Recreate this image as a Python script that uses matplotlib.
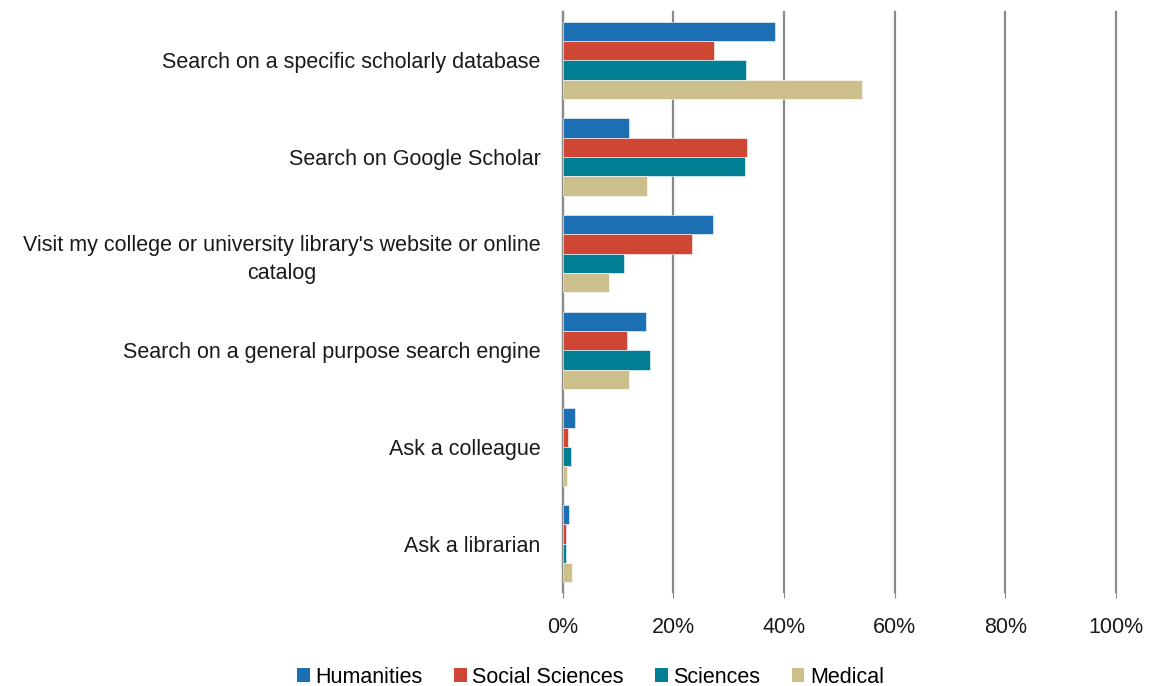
import matplotlib.pyplot as plt
import numpy as np
from matplotlib.patches import Patch
from matplotlib.ticker import PercentFormatter

plt.rcParams["font.family"] = ["Liberation Sans Narrow", "Liberation Sans", "DejaVu Sans"]

categories = [
    "Search on a specific scholarly database",
    "Search on Google Scholar",
    "Visit my college or university library's website or online\ncatalog",
    "Search on a general purpose search engine",
    "Ask a colleague",
    "Ask a librarian",
]
series_names = ["Humanities", "Social Sciences", "Sciences", "Medical"]
humanities = [38.4, 12.0, 27.2, 15.0, 2.3, 1.1]
social_sciences = [27.4, 33.4, 23.4, 11.7, 1.0, 0.6]
sciences = [33.2, 33.0, 11.1, 15.8, 1.5, 0.6]
medical = [54.1, 15.2, 8.4, 11.9, 0.7, 1.6]
x_ticks = [0, 20, 40, 60, 80, 100]

colors = ["#1b6fb2", "#cf4635", "#037f93", "#ccbf8b"]
series = [humanities, social_sciences, sciences, medical]

fig = plt.figure(figsize=(11.49, 6.86), dpi=100)
ax = fig.add_axes([0.4897, 0.137, 0.4816, 0.8455])

y = np.arange(len(categories))
bar_h = 0.2
for i, (vals, col) in enumerate(zip(series, colors)):
    ax.barh(y - 0.3 + i * bar_h, vals, height=bar_h, color=col,
            edgecolor="white", linewidth=0.4, zorder=3)

ax.set_ylim(len(categories) - 0.5, -0.5)
ax.set_xlim(0, 100)
ax.set_xticks(x_ticks)
ax.xaxis.set_major_formatter(PercentFormatter(decimals=0))
ax.set_yticks(y)
ax.set_yticklabels(categories)
for lab in ax.get_yticklabels():
    lab.set_multialignment("center")
    lab.set_linespacing(1.45)

ax.grid(axis="x", color="#8a8a8a", linewidth=1.6, zorder=0)
for line in ax.get_xgridlines():
    line.set_clip_on(False)
for side in ["top", "right", "bottom"]:
    ax.spines[side].set_visible(False)
ax.spines["left"].set_color("#8a8a8a")
ax.spines["left"].set_linewidth(1.6)
ax.tick_params(axis="y", length=0, pad=16, labelsize=15.5, labelcolor="#1a1a1a")
ax.tick_params(axis="x", length=4, color="#8a8a8a", pad=14, labelsize=15.5, labelcolor="#1a1a1a")

handles = [Patch(facecolor=c, label=n) for c, n in zip(colors, series_names)]
fig.legend(handles=handles, loc="lower center", bbox_to_anchor=(0.514, -0.031), ncol=4,
           frameon=False, fontsize=15.5, handlelength=0.6, handleheight=0.6,
           handletextpad=0.25, columnspacing=1.45)

fig.savefig("out.png", dpi=100)
